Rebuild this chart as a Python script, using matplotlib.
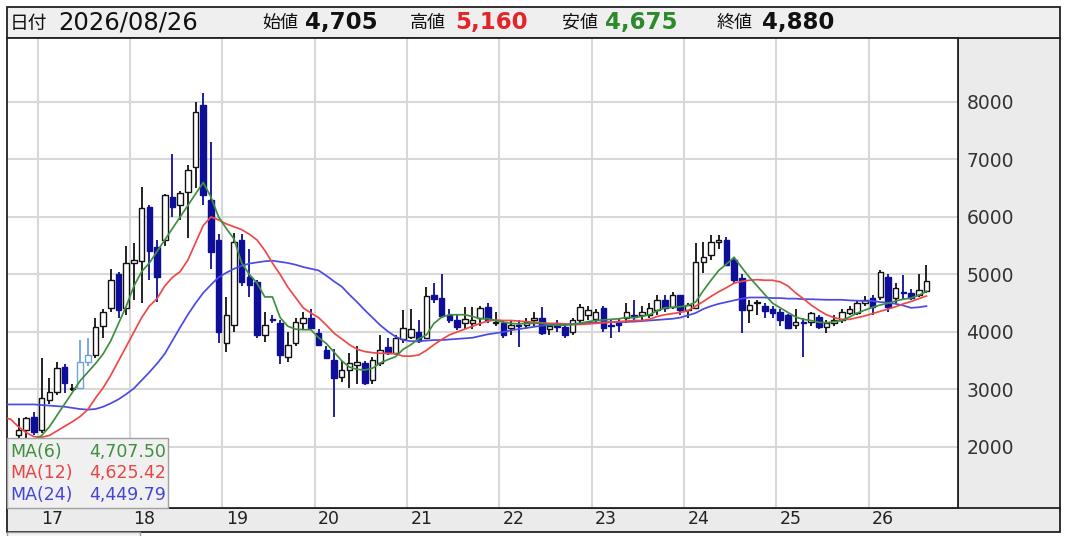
import numpy as np
import matplotlib.pyplot as plt
from matplotlib.patches import Rectangle
from matplotlib.transforms import blended_transform_factory

# monthly candles, month index 0 = 2017/01
months = list(range(-3, 116))
opens = [2200, 2290, 2520, 2300, 2820, 2960, 3390, 3000, 3030, 3480,
         3600, 4100, 4420, 5000, 4420, 5200, 5230, 6170, 5480, 5600,
         6350, 6210, 6430, 6870, 7950, 6300, 5600, 3810, 4120, 5600,
         4950, 4870, 3950, 4230, 4150, 3560, 3810, 4150, 4250, 3980,
         3690, 3510, 3220, 3340, 3420, 3460, 3170, 3460, 3740, 3640,
         3870, 3920, 4000, 3900, 4650, 4590, 4300, 4210, 4150, 4160,
         4240, 4440, 4150, 4150, 4070, 4130, 4130, 4200, 4240, 4050,
         4130, 4090, 4000, 4210, 4290, 4230, 4420, 4120, 4150, 4240,
         4300, 4290, 4300, 4380, 4560, 4440, 4640, 4380, 4420, 5220,
         5340, 5570, 5600, 5250, 4940, 4380, 4500, 4450, 4400, 4350,
         4300, 4120, 4180, 4170, 4260, 4090, 4150, 4210, 4330, 4330,
         4500, 4590, 4610, 4960, 4590, 4700, 4680, 4640, 4705]
highs = [2500, 2520, 2600, 3550, 3200, 3480, 3450, 3100, 3860, 3900,
         4250, 4400, 5100, 5050, 5500, 5550, 6520, 6200, 5600, 6400,
         7100, 6450, 6900, 8000, 8150, 7300, 5700, 4600, 5720, 5700,
         5450, 4900, 4350, 4300, 4200, 4000, 4250, 4350, 4400, 4050,
         3750, 3700, 3500, 3630, 3750, 3500, 3560, 3950, 3900, 3950,
         4380, 4400, 4200, 4780, 4850, 5000, 4400, 4300, 4440, 4440,
         4450, 4500, 4350, 4200, 4200, 4200, 4250, 4350, 4440, 4150,
         4200, 4150, 4250, 4480, 4450, 4400, 4450, 4200, 4250, 4500,
         4550, 4450, 4500, 4650, 4650, 4700, 4650, 4500, 5550, 5570,
         5690, 5690, 5650, 5300, 5000, 4550, 4550, 4500, 4450, 4400,
         4320, 4400, 4250, 4350, 4300, 4200, 4300, 4400, 4450, 4550,
         4620, 4650, 5080, 5000, 4850, 4990, 4750, 5000, 5160]
lows = [2150, 2150, 2200, 2250, 2750, 2900, 2940, 2980, 3000, 3400,
        3550, 3900, 4350, 4250, 4300, 4550, 4500, 4900, 4520, 5500,
        6000, 5950, 5630, 6500, 6200, 5100, 3800, 3650, 4000, 4800,
        4600, 3900, 3830, 4150, 3450, 3480, 3750, 4050, 4050, 3750,
        3550, 2520, 3130, 3030, 3100, 3080, 3100, 3400, 3600, 3600,
        3800, 3880, 3800, 3880, 4500, 4250, 4150, 4030, 4050, 4050,
        4100, 4150, 4100, 3900, 3950, 3740, 4050, 4100, 3950, 3950,
        4000, 3900, 3950, 4150, 4200, 4150, 4000, 3900, 4000, 4150,
        4200, 4200, 4250, 4300, 4350, 4400, 4300, 4250, 4400, 5030,
        5250, 5450, 5150, 4850, 3980, 4150, 4300, 4250, 4250, 4100,
        4050, 4050, 3560, 4100, 4050, 3980, 4100, 4150, 4300, 4300,
        4450, 4300, 4550, 4350, 4500, 4550, 4550, 4600, 4675]
closes = [2300, 2500, 2260, 2850, 2960, 3370, 3110, 3030, 3480, 3600,
          4090, 4350, 4900, 4380, 5200, 5250, 6150, 5400, 4960, 6380,
          6180, 6420, 6820, 7830, 6380, 5390, 4000, 4300, 5570, 4870,
          4820, 3950, 4120, 4200, 3600, 3770, 4170, 4250, 4070, 3770,
          3550, 3200, 3340, 3460, 3470, 3110, 3510, 3690, 3640, 3900,
          4070, 4050, 3840, 4630, 4580, 4280, 4200, 4090, 4220, 4200,
          4420, 4210, 4180, 3950, 4120, 4100, 4180, 4240, 3980, 4100,
          4080, 3950, 4210, 4440, 4380, 4350, 4070, 4100, 4130, 4350,
          4260, 4340, 4420, 4560, 4420, 4640, 4380, 4470, 5220, 5300,
          5570, 5600, 5170, 4900, 4380, 4470, 4520, 4370, 4330, 4210,
          4070, 4170, 4150, 4330, 4090, 4150, 4200, 4350, 4400, 4500,
          4560, 4440, 5050, 4440, 4770, 4680, 4590, 4730, 4880]
pale_months = [5, 6]

ma6_months = list(range(-1, 116))
ma6 = [2120, 2200, 2350, 2550, 2750, 2950, 3150, 3300, 3450, 3620,
       3850, 4150, 4450, 4800, 5050, 5200, 5400, 5600, 5800, 6000,
       6200, 6400, 6600, 6350, 6000, 5800, 5620, 5200, 5000, 4850,
       4610, 4610, 4250, 4100, 4050, 4040, 4040, 3900, 3800, 3650,
       3500, 3390, 3350, 3340, 3370, 3460, 3520, 3570, 3700, 3780,
       3880, 3950, 4150, 4260, 4300, 4300, 4300, 4270, 4230, 4230,
       4200, 4170, 4150, 4140, 4150, 4150, 4150, 4130, 4120, 4120,
       4130, 4150, 4180, 4200, 4210, 4220, 4230, 4250, 4250, 4270,
       4300, 4370, 4420, 4430, 4440, 4460, 4520, 4720, 4900, 5070,
       5180, 5300, 5120, 4950, 4800, 4650, 4500, 4420, 4340, 4260,
       4220, 4200, 4170, 4160, 4180, 4200, 4260, 4330, 4380, 4430,
       4470, 4500, 4540, 4570, 4590, 4640, 4707]
ma_months = list(range(-5, 116))
ma12 = [2520, 2480, 2350, 2250, 2180, 2170, 2200, 2280, 2360, 2440,
        2530, 2650, 2850, 3030, 3250, 3500, 3750, 4000, 4250, 4450,
        4580, 4800, 4950, 5050, 5250, 5550, 5850, 6000, 5950, 5880,
        5830, 5780, 5700, 5600, 5420, 5200, 5000, 4780, 4600, 4420,
        4330, 4250, 4120, 3980, 3880, 3780, 3700, 3660, 3640, 3630,
        3630, 3620, 3580, 3580, 3600, 3680, 3780, 3870, 3950, 4000,
        4050, 4100, 4150, 4190, 4210, 4200, 4200, 4190, 4180, 4170,
        4160, 4150, 4150, 4140, 4130, 4130, 4140, 4150, 4160, 4170,
        4180, 4190, 4200, 4200, 4220, 4270, 4300, 4320, 4340, 4370,
        4450, 4530, 4620, 4700, 4770, 4850, 4880, 4900, 4910, 4900,
        4900, 4870, 4800, 4680, 4580, 4470, 4380, 4300, 4250, 4220,
        4220, 4250, 4280, 4320, 4360, 4400, 4440, 4490, 4530, 4580,
        4625]
ma24 = [2740, 2740, 2740, 2740, 2740, 2730, 2720, 2710, 2700, 2680,
        2660, 2650, 2660, 2700, 2760, 2830, 2920, 3020, 3160, 3300,
        3450, 3620, 3850, 4080, 4300, 4500, 4680, 4820, 4950, 5030,
        5100, 5150, 5190, 5210, 5230, 5240, 5220, 5200, 5170, 5130,
        5100, 5070, 4980, 4880, 4790, 4650, 4520, 4380, 4250, 4120,
        4010, 3920, 3860, 3840, 3840, 3850, 3860, 3860, 3870, 3880,
        3890, 3900, 3930, 3960, 3980, 4000, 4030, 4050, 4070, 4090,
        4110, 4120, 4120, 4130, 4140, 4150, 4160, 4160, 4170, 4170,
        4170, 4175, 4180, 4190, 4200, 4210, 4220, 4230, 4250, 4290,
        4330, 4400, 4450, 4490, 4520, 4550, 4580, 4600, 4600, 4600,
        4590, 4590, 4580, 4580, 4570, 4570, 4565, 4560, 4560, 4560,
        4550, 4545, 4540, 4540, 4520, 4510, 4490, 4460, 4420, 4430,
        4450]

year_labels = ["17", "18", "19", "20", "21", "22", "23", "24", "25", "26"]
year_start = [0, 12, 24, 36, 48, 60, 72, 84, 96, 108]
yticks = [2000, 3000, 4000, 5000, 6000, 7000, 8000]

legend_rows = [("MA(6)", "4,707.50", "#3f8f3f"),
               ("MA(12)", "4,625.42", "#e84545"),
               ("MA(24)", "4,449.79", "#4646d6")]
header = [("始値", "4,705", "#111111", 262, 305),
          ("高値", "5,160", "#e5242a", 410, 455),
          ("安値", "4,675", "#2b8a2b", 562, 605),
          ("終値", "4,880", "#111111", 717, 762)]

W, H = 1065, 536
plt.rcParams['font.family'] = ['DejaVu Sans', 'Noto Sans CJK JP']
fig = plt.figure(figsize=(W / 100, H / 100), dpi=100)
fig.patch.set_facecolor('white')


def fr(x0, y0, x1, y1):
    return [x0 / W, 1 - y1 / H, (x1 - x0) / W, (y1 - y0) / H]


ax = fig.add_axes(fr(7, 38, 958, 508))
ax.set_facecolor('white')

# grid
for yv in yticks:
    ax.axhline(yv, color='#d8d8d8', lw=1.5, zorder=0)
for s in year_start:
    ax.axvline(s - 0.5, color='#d8d8d8', lw=1.5, zorder=0)

# candles
o = np.array(opens); h = np.array(highs); l = np.array(lows); c = np.array(closes)
m = np.array(months)
up = c >= o
pale = np.isin(m, pale_months)
navy = '#0e0e98'
wick_col = np.where(up, '#111111', navy).astype(object)
edge_col = np.where(up, '#111111', navy).astype(object)
wick_col[pale] = '#6fa3de'
edge_col[pale] = '#6fa3de'
ax.vlines(m, l, h, colors=list(wick_col), lw=1.3, zorder=2)
ax.bar(m, np.abs(c - o), bottom=np.minimum(o, c), width=0.72,
       color=np.where(up, 'white', navy), edgecolor=list(edge_col),
       linewidth=1.0, zorder=3)

# moving averages
ax.plot(ma_months, ma24, color='#4a4ae6', lw=1.25, zorder=4)
ax.plot(ma_months, ma12, color='#f04848', lw=1.25, zorder=4)
ax.plot(ma6_months, ma6, color='#3f8f3f', lw=1.25, zorder=4)

ax.set_xlim(-4.5, 119.1)
ax.set_ylim(939, 9113)
ax.set_xticks([])
ax.yaxis.tick_right()
ax.set_yticks(yticks)
ax.set_yticklabels([str(v) for v in yticks])
ax.tick_params(axis='y', length=0, pad=6, labelsize=13.5, labelcolor='#333333')
for sp in ax.spines.values():
    sp.set_color('#222222')
    sp.set_linewidth(1.3)

tr = blended_transform_factory(ax.transData, ax.transAxes)
for s, lab in zip(year_start, year_labels):
    ax.text(s - 0.5 + 0.45, -0.024, lab, transform=tr, ha='left', va='center',
            fontsize=12.5, color='#222222')

# panels
fig.patches.append(Rectangle((958 / W, 1 - 510 / H), 102 / W, 472 / H,
                             transform=fig.transFigure, facecolor='#ebebeb',
                             edgecolor='#222222', lw=1.3, zorder=-1))
fig.patches.append(Rectangle((7 / W, 1 - 532 / H), 1053 / W, 24 / H,
                             transform=fig.transFigure, facecolor='#ebebeb',
                             edgecolor='#222222', lw=1.3, zorder=-1))
fig.patches.append(Rectangle((7 / W, 1 - 545 / H), 133 / W, 13 / H,
                             transform=fig.transFigure, facecolor='#f4f4f4',
                             edgecolor='#9a9a9a', lw=1.0, zorder=-1))
fig.patches.append(Rectangle((7 / W, 1 - 38 / H), 1053 / W, 31 / H,
                             transform=fig.transFigure, facecolor='#efefef',
                             edgecolor='#222222', lw=1.3, zorder=-1))

# legend box
fig.patches.append(Rectangle((7 / W, 1 - 508 / H), 161 / W, 70 / H,
                             transform=fig.transFigure, facecolor='#f0f0f0',
                             edgecolor='#a0a0a0', lw=1.0, zorder=5))
for i, (name, val, col) in enumerate(legend_rows):
    yy = 1 - (452 + 21.5 * i) / H
    fig.text(10 / W, yy, name, color=col, fontsize=12.5, va='center', ha='left', zorder=6)
    fig.text(166 / W, yy, val, color=col, fontsize=12.5, va='center', ha='right', zorder=6)

# header
cjk = ['Noto Sans CJK JP', 'DejaVu Sans']
fig.text(10 / W, 1 - 23 / H, "日付", family=cjk, fontsize=13.5, va='center', color='#111111')
fig.text(58 / W, 1 - 22 / H, "2026/08/26", fontsize=17.5, va='center', color='#111111')
for lab, val, col, x1, x2 in header:
    fig.text(x1 / W, 1 - 23 / H, lab, family=cjk, fontsize=13, va='center', color='#111111')
    fig.text(x2 / W, 1 - 22 / H, val, fontsize=16.5, fontweight='bold', va='center', color=col)

fig.savefig('out.png', dpi=100)
